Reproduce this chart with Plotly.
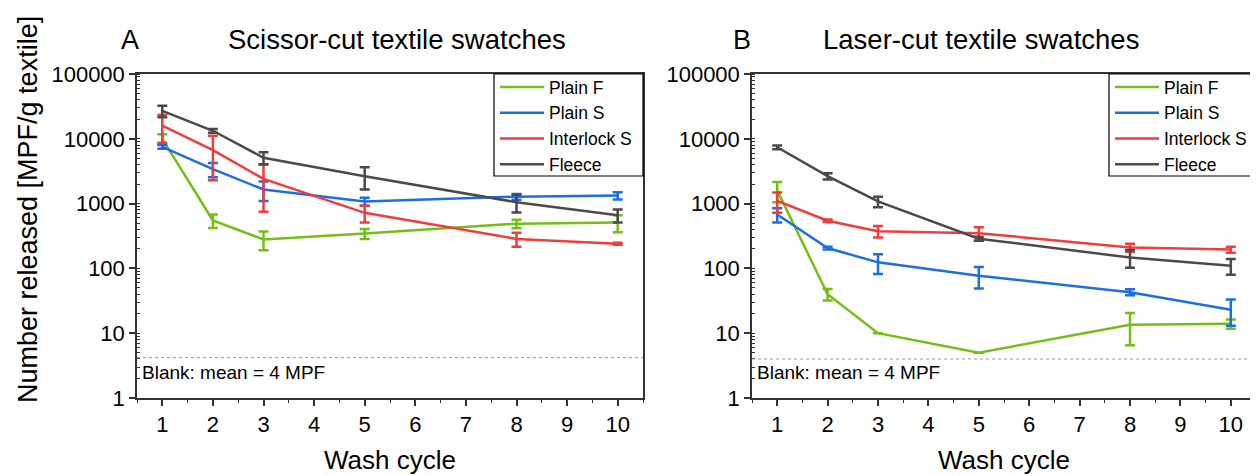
import plotly.graph_objects as go

# ---------------- data ----------------
cycles = [1, 2, 3, 5, 8, 10]
series_names = ["Plain F", "Plain S", "Interlock S", "Fleece"]

# Panel A: scissor-cut
plainF_A = [10000, 550, 280, 345, 490, 510]
plainF_A_err = [1800, 130, 90, 60, 75, 150]
plainS_A = [7500, 3400, 1650, 1080, 1280, 1330]
plainS_A_err = [500, 850, 550, 150, 130, 170]
interlock_A = [16000, 6700, 2400, 720, 285, 240]
interlock_A_err = [7300, 4400, 1650, 210, 70, 8]
fleece_A = [27000, 13300, 5100, 2650, 1050, 660]
fleece_A_err = [5500, 900, 1100, 1000, 320, 150]

# Panel B: laser-cut
plainF_B = [1600, 40, 10, 5, 13.5, 14]
plainF_B_err = [550, 8, None, None, 7, 2.3]
plainS_B = [680, 206, 124, 77, 43, 23]
plainS_B_err = [170, 10, 42, 28, 4.5, 10]
interlock_B = [1100, 545, 375, 350, 210, 195]
interlock_B_err = [380, 25, 75, 80, 30, 20]
fleece_B = [7400, 2650, 1080, 287, 147, 110]
fleece_B_err = [500, 300, 200, 20, 45, 30]

blank_A = 4.2
blank_B = 4.0

panel_letters = ["A", "B"]
panel_titles = ["Scissor-cut textile swatches", "Laser-cut textile swatches"]
blank_label = "Blank: mean = 4 MPF"
x_title = "Wash cycle"
y_title = "Number released [MPF/g textile]"
x_ticks = list(range(1, 11))
y_tickvals = [1, 10, 100, 1000, 10000, 100000]
y_ticktext = ["1", "10", "100", "1000", "10000", "100000"]

# ---------------- style ----------------
colors = ["#74be16", "#1b6fe2", "#f03c3c", "#4a4a4a"]
FONT = "Liberation Sans, Arial, sans-serif"
OFF = 8                      # page body margin offset
W, H = 1258 - OFF, 475 - OFF


def px(x):
    return (x - OFF) / W


def py(y):
    return (H - (y - OFF)) / H


fig = go.Figure()

panelA = [(plainF_A, plainF_A_err), (plainS_A, plainS_A_err),
          (interlock_A, interlock_A_err), (fleece_A, fleece_A_err)]
panelB = [(plainF_B, plainF_B_err), (plainS_B, plainS_B_err),
          (interlock_B, interlock_B_err), (fleece_B, fleece_B_err)]

for (xa, ya, leg, data) in [("x", "y", "legend", panelA), ("x2", "y2", "legend2", panelB)]:
    for name, col, (vals, errs) in zip(series_names, colors, data):
        fig.add_trace(go.Scatter(
            x=cycles, y=vals, name=name, mode="lines",
            line=dict(color=col, width=2.5),
            error_y=dict(type="data", array=errs, visible=True, color=col,
                         thickness=2.5, width=5),
            xaxis=xa, yaxis=ya, legend=leg, showlegend=True,
        ))

# plot areas in reference pixels
A_left, A_right = 137, 643
B_left, B_right = 752, 1256
top, bottom = 74, 398
ydom = [py(bottom), py(top)]

axis_common = dict(
    showline=True, linecolor="#333", linewidth=1.5, mirror=True,
    showgrid=False, zeroline=False,
    tickfont=dict(family=FONT, size=22, color="black"),
    ticks="outside", ticklen=6, tickcolor="#333", tickwidth=1.5,
)

xax = dict(axis_common, range=[0.5, 10.5], tickmode="array", tickvals=x_ticks,
           minor=dict(ticks="outside", ticklen=3, dtick=0.5, tickcolor="#333", tickwidth=1.2),
           title=dict(text=x_title, font=dict(family=FONT, size=26, color="black"), standoff=16))
yax = dict(axis_common, type="log", range=[0, 5], tickmode="array",
           tickvals=y_tickvals, ticktext=y_ticktext,
           minor=dict(ticks="inside", ticklen=3, dtick="D1", tickcolor="#333", tickwidth=1))

legend_common = dict(xanchor="left", yanchor="top",
                     bgcolor="rgba(0,0,0,0)", borderwidth=0,
                     font=dict(family=FONT, size=17.5, color="black"),
                     tracegroupgap=0, itemwidth=44)

fig.update_layout(
    width=W, height=H,
    margin=dict(l=0, r=0, t=0, b=0, autoexpand=False),
    paper_bgcolor="white", plot_bgcolor="white",
    font=dict(family=FONT, color="black"),
    xaxis=dict(xax, domain=[px(A_left), px(A_right)], anchor="y"),
    yaxis=dict(yax, domain=ydom, anchor="x"),
    xaxis2=dict(xax, domain=[px(B_left), px(B_right)], anchor="y2"),
    yaxis2=dict(yax, domain=ydom, anchor="x2"),
    legend=dict(legend_common, x=px(495), y=py(69)),
    legend2=dict(legend_common, x=px(1110), y=py(69)),
    showlegend=True,
)

# legend boxes (white fill over the traces, black frame)
for x0, x1 in [(494, 643), (1109, 1275)]:
    fig.add_shape(type="rect", xref="paper", yref="paper",
                  x0=px(x0), x1=px(x1), y0=py(176), y1=py(74),
                  fillcolor="white", line=dict(color="black", width=1.2), layer="above")

# blank lines
for xr, yr, b in [("x domain", "y", blank_A), ("x2 domain", "y2", blank_B)]:
    fig.add_shape(type="line", xref=xr, yref=yr, x0=0, x1=1, y0=b, y1=b,
                  line=dict(color="#9a9a9a", width=1, dash="dot"))

# blank labels
for xr, yr in [("x domain", "y"), ("x2 domain", "y2")]:
    fig.add_annotation(xref=xr, yref=yr, x=0.005, y=0.40, text=blank_label,
                       showarrow=False, xanchor="left", yanchor="middle",
                       font=dict(family=FONT, size=19, color="black"))

# panel letters and titles
for lx, tx, letter, title in [(130, 397, panel_letters[0], panel_titles[0]),
                              (742, 981, panel_letters[1], panel_titles[1])]:
    fig.add_annotation(xref="paper", yref="paper", x=px(lx), y=py(40),
                       text=letter, showarrow=False, xanchor="center", yanchor="middle",
                       font=dict(family=FONT, size=27, color="black"))
    fig.add_annotation(xref="paper", yref="paper", x=px(tx), y=py(40),
                       text=title, showarrow=False, xanchor="center", yanchor="middle",
                       font=dict(family=FONT, size=27.5, color="black"))

# y-axis title
fig.add_annotation(xref="paper", yref="paper", x=px(28), y=py(210),
                   text=y_title, textangle=-90, showarrow=False,
                   xanchor="center", yanchor="middle",
                   font=dict(family=FONT, size=27, color="black"))

fig.write_html("out.html")
